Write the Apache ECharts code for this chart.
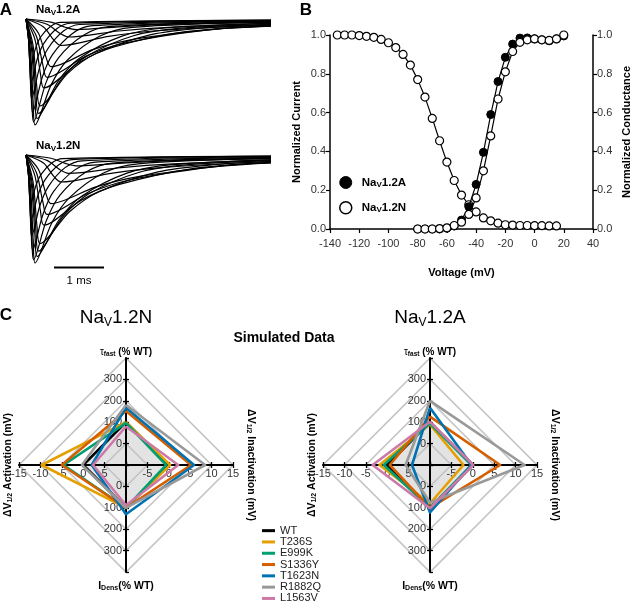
<!DOCTYPE html>
<html><head><meta charset="utf-8">
<script src="https://cdn.jsdelivr.net/npm/echarts@6/dist/echarts.min.js"></script>
<style>html,body{margin:0;padding:0;background:#fff;}#c{width:633px;height:603px;}</style>
</head><body><div id="c"></div>
<script>
const FONT = "'Liberation Sans', Arial, sans-serif";

// ---------- Panel A: sodium current families, [time (ms), normalized current] ----------
const tracesNav12A = [
  [[0,0],[0.5,-0.03],[0.8,-0.08],[1.0,-0.1],[2.0,-0.069],[3.0,-0.049],[4.9,-0.031]],
  [[0,0],[0.42,-0.05],[0.68,-0.136],[0.85,-0.17],[1.85,-0.113],[2.85,-0.079],[4.9,-0.042]],
  [[0,0],[0.35,-0.075],[0.56,-0.2],[0.7,-0.25],[1.65,-0.164],[2.6,-0.111],[4.9,-0.054]],
  [[0,0],[0.25,-0.135],[0.4,-0.36],[0.5,-0.45],[1.35,-0.287],[2.2,-0.188],[3.9,-0.091],[4.9,-0.066]],
  [[0,0],[0.21,-0.165],[0.34,-0.44],[0.42,-0.55],[1.2,-0.35],[1.97,-0.228],[3.52,-0.109],[4.9,-0.068]],
  [[0,0],[0.18,-0.195],[0.29,-0.52],[0.36,-0.65],[1.06,-0.41],[1.76,-0.264],[3.16,-0.122],[4.9,-0.064]],
  [[0,0],[0.14,-0.246],[0.22,-0.66],[0.28,-0.82],[0.83,-0.515],[1.38,-0.33],[2.48,-0.15],[3.58,-0.084],[4.9,-0.057]],
  [[0,0],[0.125,-0.267],[0.2,-0.71],[0.25,-0.89],[0.725,-0.557],[1.2,-0.355],[2.15,-0.158],[3.1,-0.087],[4.9,-0.05]],
  [[0,0],[0.11,-0.28],[0.18,-0.75],[0.22,-0.94],[0.645,-0.586],[1.07,-0.371],[1.92,-0.162],[2.77,-0.085],[4.9,-0.042]],
  [[0,0],[0.09,-0.3],[0.145,-0.8],[0.18,-1.0],[0.505,-0.619],[0.83,-0.387],[1.48,-0.161],[2.13,-0.079],[4.9,-0.03]],
  [[0,0],[0.075,-0.29],[0.12,-0.78],[0.15,-0.97],[0.4,-0.6],[0.65,-0.366],[1.15,-0.153],[1.65,-0.072],[4.9,-0.025]],
  [[0,0],[0.065,-0.26],[0.105,-0.7],[0.13,-0.88],[0.33,-0.542],[0.53,-0.336],[0.93,-0.136],[1.33,-0.063],[4.9,-0.02]],
  [[0,0],[0.055,-0.22],[0.09,-0.6],[0.11,-0.75],[0.27,-0.461],[0.43,-0.285],[0.75,-0.114],[1.07,-0.052],[4.9,-0.015]],
  [[0,0],[0.05,-0.18],[0.08,-0.48],[0.1,-0.6],[0.23,-0.368],[0.36,-0.227],[0.62,-0.09],[0.88,-0.04],[4.9,-0.01]],
  [[0,0],[0.045,-0.135],[0.07,-0.36],[0.09,-0.45],[0.19,-0.277],[0.29,-0.172],[0.49,-0.07],[0.69,-0.032],[4.9,-0.01]]
];
const tracesNav12N = [
  [[0,0],[0.5,-0.03],[0.8,-0.08],[1.0,-0.1],[2.0,-0.072],[3.0,-0.052],[4.9,-0.033]],
  [[0,0],[0.42,-0.05],[0.68,-0.136],[0.85,-0.17],[1.9,-0.116],[2.95,-0.082],[4.9,-0.045]],
  [[0,0],[0.35,-0.075],[0.56,-0.2],[0.7,-0.25],[1.7,-0.17],[2.7,-0.117],[4.9,-0.058]],
  [[0,0],[0.25,-0.135],[0.4,-0.36],[0.5,-0.45],[1.4,-0.295],[2.3,-0.196],[4.0,-0.097],[4.9,-0.07]],
  [[0,0],[0.21,-0.165],[0.34,-0.44],[0.42,-0.55],[1.24,-0.357],[2.05,-0.234],[3.7,-0.113],[4.9,-0.072]],
  [[0,0],[0.18,-0.195],[0.29,-0.52],[0.36,-0.65],[1.1,-0.42],[1.85,-0.275],[3.3,-0.128],[4.9,-0.068]],
  [[0,0],[0.14,-0.246],[0.22,-0.66],[0.28,-0.82],[0.87,-0.525],[1.46,-0.34],[2.64,-0.156],[3.8,-0.088],[4.9,-0.06]],
  [[0,0],[0.125,-0.267],[0.2,-0.71],[0.25,-0.89],[0.75,-0.565],[1.25,-0.362],[2.25,-0.162],[3.25,-0.09],[4.9,-0.053]],
  [[0,0],[0.11,-0.28],[0.18,-0.75],[0.22,-0.94],[0.67,-0.595],[1.12,-0.38],[2.02,-0.168],[2.92,-0.09],[4.9,-0.045]],
  [[0,0],[0.09,-0.3],[0.145,-0.8],[0.18,-1.0],[0.52,-0.625],[0.87,-0.395],[1.55,-0.166],[2.24,-0.082],[4.9,-0.032]],
  [[0,0],[0.075,-0.29],[0.12,-0.78],[0.15,-0.97],[0.41,-0.605],[0.68,-0.372],[1.2,-0.158],[1.73,-0.075],[4.9,-0.027]],
  [[0,0],[0.065,-0.26],[0.105,-0.7],[0.13,-0.88],[0.34,-0.548],[0.55,-0.34],[0.97,-0.14],[1.39,-0.066],[4.9,-0.022]],
  [[0,0],[0.055,-0.22],[0.09,-0.6],[0.11,-0.75],[0.28,-0.465],[0.45,-0.29],[0.78,-0.117],[1.12,-0.054],[4.9,-0.016]],
  [[0,0],[0.05,-0.18],[0.08,-0.48],[0.1,-0.6],[0.24,-0.37],[0.38,-0.23],[0.65,-0.092],[0.92,-0.042],[4.9,-0.011]],
  [[0,0],[0.045,-0.135],[0.07,-0.36],[0.09,-0.45],[0.2,-0.28],[0.31,-0.174],[0.52,-0.072],[0.73,-0.033],[4.9,-0.01]]
];
const scaleBarMs = [0.56, 1.56];

// ---------- Panel B: voltage dependence ----------
const inactVoltage = [-135,-130,-125,-120,-115,-110,-105,-100,-95,-90,-85,-80,-75,-70,-65,-60,-55,-50,-45,-40,-35,-30,-25,-20,-15,-10,-5,0,5,10,15];
const inactNav12N = [1.0,1.0,1.0,0.997,0.993,0.988,0.977,0.96,0.935,0.9,0.845,0.77,0.68,0.57,0.455,0.345,0.25,0.175,0.125,0.088,0.057,0.042,0.03,0.022,0.02,0.018,0.018,0.017,0.017,0.016,0.016];
const actVoltage = [-80,-75,-70,-65,-60,-55,-50,-45,-40,-35,-30,-25,-20,-15,-10,-5,0,5,10,15,20];
const actNav12A = [0,0,0,0,0.004,0.015,0.046,0.115,0.23,0.395,0.59,0.76,0.885,0.953,0.984,0.985,0.98,0.975,0.97,0.98,0.995];
const actNav12N = [0,0,0,0.002,0.006,0.018,0.035,0.075,0.16,0.30,0.48,0.67,0.81,0.915,0.962,0.975,0.98,0.975,0.972,0.98,1.0];

// ---------- Panel C: simulated data ----------
const mutants = ['WT','T236S','E999K','S1336Y','T1623N','R1882Q','L1563V'];
const mutantColors = ['#000000','#E69F00','#009E73','#D55E00','#0072B2','#999999','#CC79A7'];
const tauFastN = [100, 100, 97, 152, 168, 180, 80];
const dActN    = [0, -9.7, -4.6, -5.0, 2.0, -0.3, 2.3];
const iDensN   = [100, 100, 100, 100, 130, 100, 88];
const dInactN  = [0, 0.3, -0.6, 5.2, 5.9, 8.5, 2.2];
const tauFastA = [100, 90, 95, 126, 168, 200, 102];
const dActA    = [0, -1.8, -0.8, 0.6, 5.8, 4.3, -3.4];
const iDensA   = [100, 80, 100, 100, 122, 75, 102];
const dInactA  = [0, -2.2, -0.3, 6.4, -0.3, 12.1, 0.1];

// ---------- build ----------
const grids = [], xAxes = [], yAxes = [], series = [];
function grid(g){ g.containLabel = false; g.outerBoundsMode = 'none'; grids.push(g); return grids.length - 1; }
function xa(a){ xAxes.push(a); return xAxes.length - 1; }
function ya(a){ yAxes.push(a); return yAxes.length - 1; }
const HIDDEN = gi => ({type:'value', gridIndex:gi, show:false, min:0, max:1});
const tickLbl = {fontFamily:FONT, fontSize:11, color:'#333'};

// Panel A
const gA = [grid({left:26, top:19, width:245, height:106}), grid({left:26, top:155, width:245, height:108})];
const axA = gA.map(gi => ({
  x: xa({type:'value', gridIndex:gi, show:false, min:0, max:4.9}),
  y: ya({type:'value', gridIndex:gi, show:false, min:-1, max:0})
}));
[tracesNav12A, tracesNav12N].forEach((fam, k) => fam.forEach(tr => series.push({
  type:'line', xAxisIndex:axA[k].x, yAxisIndex:axA[k].y, data:tr, symbol:'none', smooth:0.3,
  clip:false, silent:true, lineStyle:{color:'#000', width:1.2}
})));

// Panel B
const gB = grid({left:330, top:35, width:263, height:194});
const bAxisLine = {show:true, onZero:false, lineStyle:{color:'#000', width:1.5}};
const bTick = {show:true, length:4, lineStyle:{color:'#000', width:1.2}};
const bName = {fontFamily:FONT, fontSize:11, fontWeight:'bold', color:'#000'};
const bx = xa({type:'value', gridIndex:gB, min:-140, max:40, interval:20, axisLine:bAxisLine, axisTick:bTick,
  axisLabel:Object.assign({margin:9}, tickLbl), splitLine:{show:false},
  name:'Voltage (mV)', nameLocation:'middle', nameGap:38, nameTextStyle:bName});
const yB = (pos, name) => ya({type:'value', gridIndex:gB, position:pos, min:0, max:1, interval:0.2,
  axisLine:bAxisLine, axisTick:bTick, axisLabel:Object.assign({margin:4, formatter:v => v.toFixed(1)}, tickLbl),
  splitLine:{show:false}, name, nameLocation:'middle', nameGap:28, nameRotate:90, nameTextStyle:bName});
const byL = yB('left', 'Normalized Current');
const byR = yB('right', 'Normalized Conductance');
const openSym = {color:'#fff', borderColor:'#000', borderWidth:1.2};
series.push({type:'line', name:'NaV1.2N', xAxisIndex:bx, yAxisIndex:byL, data:inactVoltage.map((v,i)=>[v, inactNav12N[i]]),
  symbol:'circle', symbolSize:8, lineStyle:{color:'#000', width:1.2}, itemStyle:openSym, z:3});
series.push({type:'line', name:'NaV1.2A', xAxisIndex:bx, yAxisIndex:byR, data:actVoltage.map((v,i)=>[v, actNav12A[i]]),
  symbol:'circle', symbolSize:8, lineStyle:{color:'#000', width:1.2}, itemStyle:{color:'#000', borderColor:'#000', borderWidth:1}, z:4});
series.push({type:'line', name:'NaV1.2N', xAxisIndex:bx, yAxisIndex:byR, data:actVoltage.map((v,i)=>[v, actNav12N[i]]),
  symbol:'circle', symbolSize:8, lineStyle:{color:'#000', width:1.2}, itemStyle:openSym, z:5});

// Panel C
const R = 107;
const DIAMONDS = [{cx:126, cy:465}, {cx:430, cy:465}];
const radars = DIAMONDS.map(d => ({
  center:[d.cx, d.cy], radius:R, startAngle:90, shape:'polygon', splitNumber:5,
  indicator:[{name:'tau', min:-100, max:400}, {name:'act', min:-10, max:15}, {name:'idens', min:-100, max:400}, {name:'inact', min:-10, max:15}],
  axisName:{show:false}, axisLine:{show:false}, axisTick:{show:false}, axisLabel:{show:false},
  splitLine:{lineStyle:{color:'#c4c4c4', width:1.6}},
  splitArea:{show:true, areaStyle:{color:['#e3e3e3','#e3e3e3','rgba(0,0,0,0)','rgba(0,0,0,0)','rgba(0,0,0,0)']}},
  silent:true
}));
const radarSets = [[tauFastN, dActN, iDensN, dInactN], [tauFastA, dActA, iDensA, dInactA]];
radarSets.forEach((s, k) => series.push({
  type:'radar', radarIndex:k, symbol:'none', silent:true, z:3,
  data: mutants.map((m, i) => ({name:m, value:[s[0][i], -s[1][i], s[2][i], s[3][i]],
    lineStyle:{color:mutantColors[i], width:2.6}, itemStyle:{color:mutantColors[i]}}))
}));

const AX_LINE = {show:true, onZero:false, lineStyle:{color:'#000', width:2}};
const TICK_OUT = {show:true, length:3, lineStyle:{color:'#000', width:1.3}};
const TICK_IN = {show:true, inside:true, length:3, lineStyle:{color:'#000', width:1.3}};
DIAMONDS.forEach(d => {
  [{top:d.cy - R, inverse:false}, {top:d.cy, inverse:true}].forEach(h => {
    const g = grid({left:d.cx, top:h.top, width:20, height:R});
    xa(HIDDEN(g));
    const base = {type:'value', gridIndex:g, position:'left', inverse:h.inverse, min:-100, max:400, interval:100, splitLine:{show:false}};
    ya(Object.assign({}, base, {axisLine:AX_LINE, axisTick:TICK_OUT,
      axisLabel:Object.assign({margin:4, showMinLabel:false, showMaxLabel:false}, tickLbl)}));
    ya(Object.assign({}, base, {axisLine:{show:false}, axisTick:TICK_IN, axisLabel:{show:false}}));
  });
  [{left:d.cx - R, min:-15, max:10, sMin:true, sMax:false}, {left:d.cx, min:-10, max:15, sMin:false, sMax:true}].forEach(h => {
    const g = grid({left:h.left, top:d.cy - 20, width:R, height:20});
    ya(HIDDEN(g));
    const base = {type:'value', gridIndex:g, position:'bottom', min:h.min, max:h.max, interval:5, splitLine:{show:false}};
    xa(Object.assign({}, base, {axisLine:AX_LINE, axisTick:TICK_OUT,
      axisLabel:Object.assign({margin:3, showMinLabel:h.sMin, showMaxLabel:h.sMax}, tickLbl)}));
    xa(Object.assign({}, base, {axisLine:{show:false}, axisTick:TICK_IN, axisLabel:{show:false}}));
  });
});

// ---------- texts ----------
function txt(x, y, text, o) {
  o = o || {};
  return {type:'text', x, y, rotation:o.rot || 0, silent:true, z:10, style:{
    text, fill:'#000', fontFamily:FONT, fontSize:o.size || 11, fontWeight:o.weight || 'normal',
    align:o.align || 'center', verticalAlign:'middle', rich:o.rich}};
}
const subRich = (size, sub, w) => ({
  b:{fontFamily:FONT, fontSize:size, fontWeight:w, fill:'#000'},
  s:{fontFamily:FONT, fontSize:sub, fontWeight:w, fill:'#000', verticalAlign:'bottom', padding:[Math.round(size*0.45),0,0,0]}
});
const texts = [
  txt(6, 10, 'A', {size:17, weight:'bold'}),
  txt(306, 10, 'B', {size:17, weight:'bold'}),
  txt(6, 315, 'C', {size:17, weight:'bold'}),
  txt(36, 10, '{b|Na}{s|V}{b|1.2A}', {align:'left', rich:subRich(11.5, 8, 'bold')}),
  txt(36, 146, '{b|Na}{s|V}{b|1.2N}', {align:'left', rich:subRich(11.5, 8, 'bold')}),
  txt(79, 281, '1 ms', {size:11.5}),
  txt(116, 318, '{b|Na}{s|V}{b|1.2N}', {rich:subRich(19, 12, 'normal')}),
  txt(430, 318, '{b|Na}{s|V}{b|1.2A}', {rich:subRich(19, 12, 'normal')}),
  txt(284, 338, 'Simulated Data', {size:14, weight:'bold'})
];
const tauRich = {
  g:{fontFamily:FONT, fontSize:10, fill:'#000'},
  s:{fontFamily:FONT, fontSize:6.5, fontWeight:'bold', fill:'#000', verticalAlign:'bottom', padding:[4,0,0,0]},
  b:{fontFamily:FONT, fontSize:10, fontWeight:'bold', fill:'#000'}
};
DIAMONDS.forEach(d => {
  texts.push(txt(d.cx, d.cy - R - 6, '{g|τ}{s|fast}{b| (% WT)}', {rich:tauRich}));
  texts.push(txt(d.cx, d.cy + R + 14, '{b|I}{s|Dens}{b|(% WT)}', {rich:subRich(10.5, 7, 'bold')}));
  texts.push(txt(d.cx - 118, d.cy, '{b|ΔV}{s|1/2}{b| Activation (mV)}', {rot:Math.PI/2, rich:subRich(10.5, 7, 'bold')}));
  texts.push(txt(d.cx + 125, d.cy, '{b|ΔV}{s|1/2}{b| Inactivation (mV)}', {rot:-Math.PI/2, rich:subRich(10.5, 7, 'bold')}));
});

const legendB = {
  data:[{name:'NaV1.2A', icon:'circle', itemStyle:{color:'#000', borderColor:'#000', borderWidth:1}},
        {name:'NaV1.2N', icon:'circle', itemStyle:{color:'#fff', borderColor:'#000', borderWidth:1.5}}],
  orient:'vertical', left:334, top:171, itemWidth:12, itemHeight:12, itemGap:12, selectedMode:false,
  formatter: n => n.replace('NaV', 'Na{s|V}'),
  textStyle:{fontFamily:FONT, fontSize:11.5, fontWeight:'bold', color:'#000', padding:[0,0,0,5],
    rich:{s:{fontFamily:FONT, fontSize:8, fontWeight:'bold', color:'#000', verticalAlign:'bottom', padding:[5,0,0,0]}}}
};
const LEG_ROW = 11.3;
const legendC = (names, top) => ({
  data:names, orient:'vertical', left:257, top, icon:'rect', itemWidth:13, itemHeight:3, itemGap:0,
  selectedMode:false, textStyle:{fontFamily:FONT, fontSize:11, color:'#222', lineHeight:LEG_ROW}
});

const chart = echarts.init(document.getElementById('c'), null, {renderer:'canvas'});
chart.setOption({
  animation:false, backgroundColor:'#fff', tooltip:{show:false},
  grid:grids, xAxis:xAxes, yAxis:yAxes, radar:radars,
  legend:[legendB, legendC(mutants.slice(0, 6), 520), legendC(mutants.slice(6), 520 + 6 * LEG_ROW)],
  series:series,
  graphic:{elements:texts.map((t, i) => Object.assign({id:'t' + i}, t))}
});
// scale bar placed through the bottom trace panel's time axis
const xs0 = chart.convertToPixel({xAxisIndex:axA[1].x}, scaleBarMs[0]);
const xs1 = chart.convertToPixel({xAxisIndex:axA[1].x}, scaleBarMs[1]);
chart.setOption({graphic:{elements:[{id:'bar', type:'line', silent:true, shape:{x1:xs0, y1:267.5, x2:xs1, y2:267.5}, style:{stroke:'#000', lineWidth:2}}]}});
</script></body></html>
